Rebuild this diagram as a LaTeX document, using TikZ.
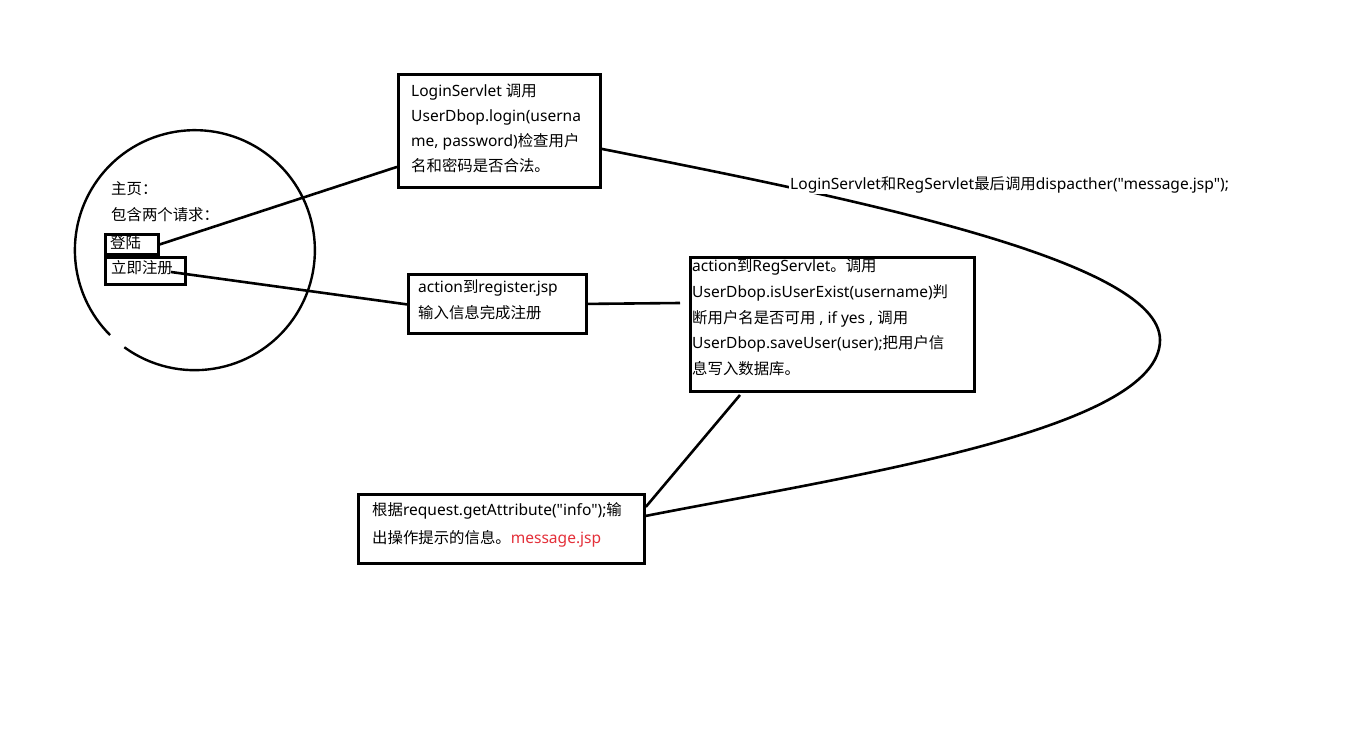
\documentclass[tikz,border=0pt]{standalone}
\usepackage{fontspec}
\setmainfont{Noto Sans}[Scale=1.11, Ligatures=TeXOff]
\newfontfamily\cjk{Noto Sans CJK SC}[Scale=1.1, Ligatures=TeXOff]
\definecolor{jspred}{RGB}{228,48,58}
\begin{document}
\begin{tikzpicture}[x=1pt,y=-1pt,
  box/.style={draw, line width=2.8pt, inner sep=0pt, anchor=north west},
  txt/.style={anchor=base west, inner sep=0pt, font=\fontsize{14}{18}\selectfont},
  wire/.style={line width=2.6pt}]
\useasboundingbox (0,0) rectangle (1345,742);
\fill[white] (0,0) rectangle (1345,742);

% home page circle
\node[circle, minimum size=240pt, inner sep=0pt] (home) at (195,250) {};
\draw[y=1pt, line width=2.4pt] (home.234) arc[start angle=234, end angle=585, radius=120];
\node[txt] (t1) at (111,194) {\cjk 主页：};
\node[txt] (t2) at (111,220) {\cjk 包含两个请求：};
\node[box, minimum width=53pt, minimum height=20pt] (dl) at (104,233) {};
\node[txt] (dlt) at (110,248) {\cjk 登陆};
\node[box, minimum width=80pt, minimum height=27pt] (zc) at (104,256) {};
\node[txt] (zct) at (111,273) {\cjk 立即注册};

% login servlet box
\node[box, minimum width=202pt, minimum height=113pt] (login) at (397,73) {};
\node[txt] (l1) at (411,96) {LoginServlet {\cjk 调用}};
\node[txt] (l2) at (411,121) {UserDbop.login(userna};
\node[txt] (l3) at (411,146) {me, password){\cjk 检查用户}};
\node[txt] (l4) at (411,171) {\cjk 名和密码是否合法。};

% register.jsp box
\node[box, minimum width=178pt, minimum height=59pt] (reg) at (407,273) {};
\node[txt] (r1) at (418,292) {action{\cjk 到}register.jsp};
\node[txt] (r2) at (418,318) {\cjk 输入信息完成注册};

% RegServlet box
\node[box, minimum width=284pt, minimum height=134pt] (regs) at (689,256) {};
\node[txt] (s1) at (692,271) {action{\cjk 到}RegServlet{\cjk 。调用}};
\node[txt] (s2) at (692,297) {UserDbop.isUserExist(username){\cjk 判}};
\node[txt] (s3) at (692,323) {{\cjk 断用户名是否可用} , if yes , {\cjk 调用}};
\node[txt] (s4) at (692,348) {UserDbop.saveUser(user);{\cjk 把用户信}};
\node[txt] (s5) at (692,374) {\cjk 息写入数据库。};

% message.jsp box
\node[box, minimum width=286pt, minimum height=69pt] (msg) at (357,493) {};
\node[txt] (m1) at (372,515) {{\cjk 根据}request.getAttribute("info");{\cjk 输}};
\node[txt] (m2) at (372,543) {{\cjk 出操作提示的信息。}\textcolor{jspred}{message.jsp}};

% connectors
\coordinate (zcout) at (171,272);
\coordinate (regsin) at (680,303);
\coordinate (regsout) at (740,395);
\draw[wire] (dl.east) -- ([yshift=-36pt]login.west);
\draw[wire] (zcout) -- ([yshift=-0.5pt]reg.west);
\draw[wire] (reg.east) -- (regsin);
\draw[wire] (regsout) -- ([yshift=22pt]msg.east);
\draw[wire] ([yshift=-18pt]login.east) .. controls (850,198) and (1160,260) .. (1160,340)
  .. controls (1160,430) and (850,476) .. ([yshift=13pt]msg.east);

\node[txt, fill=white, inner sep=1pt] (lab) at (789,189)
  {LoginServlet{\cjk 和}RegServlet{\cjk 最后调用}dispacther("message.jsp");};
\end{tikzpicture}
\end{document}
